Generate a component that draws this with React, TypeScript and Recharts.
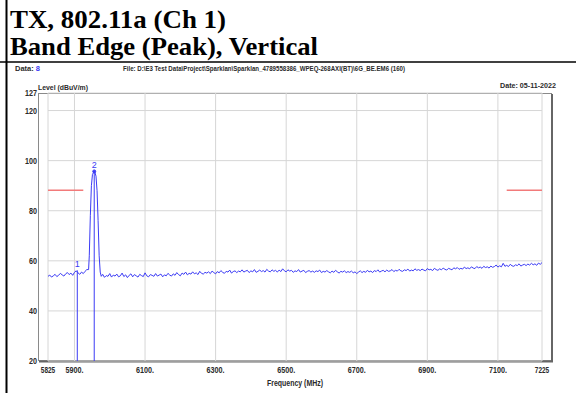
import React from "react"
import {
  LineChart,
  Line,
  XAxis,
  YAxis,
  CartesianGrid,
  ReferenceLine,
  ReferenceDot,
} from "recharts"

// sweep points (MHz) and measured level (dBuV/m)
const freqs = [
  5825, 5830, 5835, 5840, 5845, 5850, 5855, 5860, 5865, 5870, 5875, 5880, 5885, 5890, 5895, 5900, 5905, 5910, 5915, 5920, 5925, 5930, 5935,
  5940, 5942, 5945, 5948, 5951, 5956, 5958, 5961, 5964, 5967, 5970, 5973, 5976,
  5980, 5985, 5990, 5995, 6000, 6005, 6010, 6015, 6020, 6025, 6030, 6035, 6040, 6045, 6050, 6055, 6060, 6065, 6070, 6075,
  6080, 6085, 6090, 6095, 6100, 6105, 6110, 6115, 6120, 6125, 6130, 6135, 6140, 6145, 6150, 6155, 6160, 6165, 6170, 6175,
  6180, 6185, 6190, 6195, 6200, 6205, 6210, 6215, 6220, 6225, 6230, 6235, 6240, 6245, 6250, 6255, 6260, 6265, 6270, 6275,
  6280, 6285, 6290, 6295, 6300, 6305, 6310, 6315, 6320, 6325, 6330, 6335, 6340, 6345, 6350, 6355, 6360, 6365, 6370, 6375,
  6380, 6385, 6390, 6395, 6400, 6405, 6410, 6415, 6420, 6425, 6430, 6435, 6440, 6445, 6450, 6455, 6460, 6465, 6470, 6475,
  6480, 6485, 6490, 6495, 6500, 6505, 6510, 6515, 6520, 6525, 6530, 6535, 6540, 6545, 6550, 6555, 6560, 6565, 6570, 6575,
  6580, 6585, 6590, 6595, 6600, 6605, 6610, 6615, 6620, 6625, 6630, 6635, 6640, 6645, 6650, 6655, 6660, 6665, 6670, 6675,
  6680, 6685, 6690, 6695, 6700, 6705, 6710, 6715, 6720, 6725, 6730, 6735, 6740, 6745, 6750, 6755, 6760, 6765, 6770, 6775,
  6780, 6785, 6790, 6795, 6800, 6805, 6810, 6815, 6820, 6825, 6830, 6835, 6840, 6845, 6850, 6855, 6860, 6865, 6870, 6875,
  6880, 6885, 6890, 6895, 6900, 6905, 6910, 6915, 6920, 6925, 6930, 6935, 6940, 6945, 6950, 6955, 6960, 6965, 6970, 6975,
  6980, 6985, 6990, 6995, 7000, 7005, 7010, 7015, 7020, 7025, 7030, 7035, 7040, 7045, 7050, 7055, 7060, 7065, 7070, 7075,
  7080, 7085, 7090, 7095, 7100, 7105, 7110, 7115, 7120, 7125, 7130, 7135, 7140, 7145, 7150, 7155, 7160, 7165, 7170, 7175,
  7180, 7185, 7190, 7195, 7200, 7205, 7210, 7215, 7220, 7225,
]

const levels = [
  53.8, 54.3, 53.5, 54.0, 54.6, 53.7, 54.2, 55.0, 54.4, 53.9, 54.8, 55.3, 54.5, 55.1, 54.2, 55.4, 56.0, 55.2, 54.6, 55.5, 54.9, 55.8, 56.5,
  56.5, 62, 78, 90, 94.5, 95.7, 95.3, 93.8, 88, 76, 62, 55.5, 53.8,
  54.6, 53.4, 54.1, 53.8, 54.9, 53.5, 54.3, 53.9, 54.7, 53.6, 54.0, 55.1, 53.7, 54.4, 53.3, 54.2, 54.8, 53.6, 54.5, 54.0,
  53.5, 54.6, 54.1, 53.7, 55.2, 54.0, 53.6, 54.5, 54.2, 53.8, 54.9, 53.9, 54.3, 54.7, 53.6, 54.4, 54.0, 55.0, 54.3, 53.9,
  54.8, 54.2, 55.3, 54.5, 54.0, 55.1, 54.6, 55.5, 54.4, 55.0, 54.7, 55.6, 54.8, 55.2, 54.5, 55.8, 55.0, 54.7, 55.4, 55.1,
  55.6, 54.9, 55.9, 55.3, 54.8, 55.7, 55.2, 56.1, 55.4, 55.0, 55.8, 55.5, 56.3, 55.1, 55.7, 56.0, 55.3, 55.9, 55.6, 56.4,
  55.5, 55.9, 56.2, 55.3, 56.0, 55.6, 56.5, 55.4, 55.8, 56.3, 55.7, 56.1, 55.5, 56.6, 55.9, 55.6, 56.4, 55.8, 56.2, 55.5,
  56.3, 55.7, 56.8, 56.0, 55.6, 56.4, 55.9, 56.2, 55.4, 56.0, 55.7, 56.5, 55.5, 55.9, 56.2, 55.3, 55.8, 56.1, 55.5, 55.9,
  55.4, 56.0, 55.7, 56.3, 55.3, 55.8, 55.5, 56.1, 55.6, 55.2, 55.9, 55.4, 56.2, 55.6, 55.1, 55.8, 55.5, 56.0, 55.3, 55.7,
  55.4, 55.9, 55.2, 55.6, 54.9, 55.5, 56.0, 55.3, 55.8, 55.4, 56.2, 55.6, 55.9, 55.3, 56.1, 55.7, 56.4, 55.5, 55.9, 56.2,
  55.6, 56.3, 55.8, 56.0, 56.5, 55.7, 56.2, 55.9, 56.6, 56.0, 55.8, 56.4, 56.1, 56.7, 55.9, 56.3, 56.0, 56.8, 56.2, 56.5,
  56.1, 56.7, 56.3, 56.0, 56.9, 56.4, 56.6, 56.1, 57.0, 56.5, 56.2, 56.8, 56.4, 57.1, 56.6, 56.3, 57.0, 56.7, 56.4, 57.2,
  56.8, 57.3, 56.6, 57.0, 56.7, 57.5, 56.9, 57.2, 56.8, 57.6, 57.1, 56.9, 57.7, 57.2, 57.5, 57.0, 57.8, 57.3, 57.6, 57.1,
  57.9, 57.4, 57.7, 58.3, 57.5, 58.0, 57.6, 59.0, 57.8, 58.2, 57.7, 58.6, 58.0, 57.8, 58.4, 58.1, 58.8, 57.9, 58.3, 58.6,
  58.1, 58.7, 58.3, 59.0, 58.4, 58.8, 58.2, 59.1, 58.6, 59.3,
]

const xTicks = [5825, 5900, 6100, 6300, 6500, 6700, 6900, 7100, 7225]
const xTickLabels = ["5825", "5900.", "6100.", "6300.", "6500.", "6700.", "6900.", "7100.", "7225"]
const yTicks = [20, 40, 60, 80, 100, 120, 127]

const limitLevel = 88.2
const limitLeft = [5825, 5925]
const limitRight = [7125, 7225]

const markerNames = ["1", "2"]
const markerFreqs = [5908, 5956]
const markerLevels = [56.2, 95.7]

const data = freqs.map((f, i) => ({ freq: f, level: levels[i] }))

const BLUE = "#3b3bf5"
const RED = "#f27a7a"
const narrow = "'Liberation Sans', Arial, sans-serif"
const TXT = "#2a2a2a"

function XTick({ x, y, payload }: any) {
  const label = xTickLabels[xTicks.indexOf(payload.value)] ?? String(payload.value)
  return (
    <text x={x} y={y} dy="0.71em" textAnchor="middle" fontFamily={narrow} fontSize={9} fontWeight="bold" fill={TXT}
      textLength={label.length * 3.6} lengthAdjust="spacingAndGlyphs">
      {label}
    </text>
  )
}

function YTick({ x, y, payload }: any) {
  const label = String(payload.value)
  return (
    <text x={x} y={y} dy="0.355em" textAnchor="end" fontFamily={narrow} fontSize={9} fontWeight="bold" fill={TXT}
      textLength={label.length * 4} lengthAdjust="spacingAndGlyphs">
      {label}
    </text>
  )
}

export default function App() {
  return (
    <div style={{ position: "absolute", left: 0, top: 0, width: 576, height: 393, background: "#fff" }}>
      <svg width={576} height={393} style={{ position: "absolute", left: 0, top: 0 }}>
        <line x1={0} y1={62} x2={576} y2={62} stroke="#000" strokeWidth={1.5} />
        <line x1={6.5} y1={0} x2={6.5} y2={393} stroke="#000" strokeWidth={2} />
        <text x={10} y={28} fontFamily="'Liberation Serif', serif" fontWeight="bold" fontSize={26} textLength={216} lengthAdjust="spacingAndGlyphs">
          TX, 802.11a (Ch 1)
        </text>
        <text x={10} y={55} fontFamily="'Liberation Serif', serif" fontWeight="bold" fontSize={26} textLength={308} lengthAdjust="spacingAndGlyphs">
          Band Edge (Peak), Vertical
        </text>
        <g fontFamily={narrow} fontSize={8} fontWeight="bold" fill={TXT}>
          <text x={15} y={71} textLength={25} lengthAdjust="spacingAndGlyphs">
            Data: <tspan fill={BLUE}>8</tspan>
          </text>
          <text x={123} y={71} textLength={282} lengthAdjust="spacingAndGlyphs">
            File: D:\E3 Test Data\Project\Sparklan\Sparklan_4789558386_WPEQ-268AXI(BT)\6G_BE.EM6  (160)
          </text>
          <text x={500} y={88} textLength={56} lengthAdjust="spacingAndGlyphs">
            Date: 05-11-2022
          </text>
          <text x={38} y={90} textLength={50} lengthAdjust="spacingAndGlyphs">
            Level (dBuV/m)
          </text>
          <text x={267} y={386} fontSize={9} textLength={56} lengthAdjust="spacingAndGlyphs">
            Frequency (MHz)
          </text>
        </g>
        <rect x={38.5} y={93.5} width={513} height={267} fill="none" stroke="#8a8a8a" strokeWidth={1} />
        <line x1={552} y1={94} x2={552} y2={362} stroke="#666" strokeWidth={2} />
        <line x1={39} y1={361.5} x2={553} y2={361.5} stroke="#666" strokeWidth={2} />
      </svg>
      <div style={{ position: "absolute", left: 0, top: 0 }}>
        <LineChart width={576} height={393} data={data} margin={{ top: 93, right: 34, bottom: 12, left: 0 }}>
          <CartesianGrid stroke="#d6d6d6" strokeWidth={1} />
          <XAxis
            dataKey="freq"
            type="number"
            domain={[5825, 7225]}
            ticks={xTicks}
            interval={0}
            height={20}
            axisLine={false}
            tickLine={false}
            tickSize={6}
            tickMargin={0}
            tick={<XTick />}
          />
          <YAxis
            type="number"
            domain={[20, 127]}
            ticks={yTicks}
            interval={0}
            width={48}
            axisLine={false}
            tickLine={false}
            tickSize={6}
            tickMargin={5}
            tick={<YTick />}
          />
          <ReferenceLine
            segment={[{ x: limitLeft[0], y: limitLevel }, { x: limitLeft[1], y: limitLevel }]}
            stroke={RED}
            strokeWidth={1.5}
          />
          <ReferenceLine
            segment={[{ x: limitRight[0], y: limitLevel }, { x: limitRight[1], y: limitLevel }]}
            stroke={RED}
            strokeWidth={1.5}
          />
          {markerFreqs.map((f, i) => (
            <ReferenceLine
              key={markerNames[i]}
              segment={[{ x: f, y: 20 }, { x: f, y: markerLevels[i] }]}
              stroke={BLUE}
              strokeWidth={1}
              label={{ value: markerNames[i], position: "top", fill: BLUE, fontSize: 9, fontFamily: narrow, offset: 3 }}
            />
          ))}
          <ReferenceDot x={markerFreqs[1]} y={markerLevels[1]} r={1.5} fill={BLUE} stroke={BLUE} />
          <Line
            dataKey="level"
            type="linear"
            stroke={BLUE}
            strokeWidth={1}
            dot={false}
            isAnimationActive={false}
          />
        </LineChart>
      </div>
    </div>
  )
}
